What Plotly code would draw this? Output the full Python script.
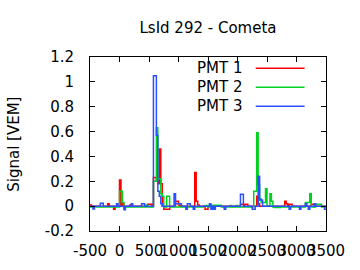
import numpy as np
import plotly.graph_objects as go

# ---- data -------------------------------------------------------------
title_text = "LsId 292 - Cometa"
series_names = ["PMT 1", "PMT 2", "PMT 3"]
t_first = -500          # ns, left edge of first bin
bin_width = 25          # ns

# 160 bins, 20 per row (each row = 500 ns)
pmt1 = [
    0.01, 0, 0, 0, 0, 0, 0, 0, 0, 0, 0, 0, 0.02, 0, 0, 0, -0.025, 0, 0, 0,
    0.21, 0, 0.02, 0, 0, 0, 0, 0.01, 0, 0, 0, 0, 0, 0, 0, 0, 0, 0, 0, 0.015,
    0.015, 0.015, 0, 0.23, 0.23, 0.2, 0.18, 0.46, 0.18, 0, -0.025, -0.025, -0.025, -0.025, 0, 0, 0, 0, 0.04, 0.04,
    0.01, 0, 0, 0, 0, 0, 0, 0, 0, 0, 0, 0.27, 0.04, 0.01, 0, 0, 0, 0, -0.025, -0.025,
    0, 0, 0, 0, 0, 0, 0, 0, 0, 0, 0, 0, 0, 0, 0, 0, 0, 0, 0, 0,
    0, 0, 0.015, 0.015, 0, 0.015, 0.015, 0, 0, 0, 0, 0, 0, 0.08, 0.02, 0, 0, 0, 0, 0,
    0, 0, 0, 0, 0, 0, 0, 0, 0, 0, 0, 0, 0.04, 0.02, 0, 0.015, 0.015, 0, 0, 0,
    0, 0, 0, 0, 0, 0, 0, 0, 0, 0, 0.015, 0.015, 0, 0, 0, 0, 0, 0, 0, 0,
]
pmt2 = [
    -0.006, -0.006, -0.006, -0.006, -0.006, -0.006, -0.006, -0.006, -0.006, -0.006, -0.006, -0.006, -0.006, -0.006, -0.006, -0.006, -0.006, -0.006, -0.006, -0.006,
    0.12, 0.12, 0.03, -0.006, -0.006, -0.006, -0.006, -0.006, -0.006, -0.006, -0.006, -0.006, -0.006, -0.006, -0.006, -0.006, -0.006, -0.006, 0.01, -0.006,
    -0.006, -0.006, -0.006, 0.2, 0.2, 0.63, 0.22, 0.22, 0.1, 0.08, -0.006, -0.006, 0.08, 0.08, -0.006, -0.006, -0.006, -0.006, -0.006, -0.006,
    -0.006, -0.006, 0.0, -0.006, -0.006, -0.006, -0.006, -0.006, -0.006, -0.006, -0.006, -0.006, -0.006, -0.006, -0.006, -0.006, -0.006, 0.0, 0.005, 0.005,
    -0.006, 0.008, 0.008, 0.008, 0.008, 0.008, 0.008, 0.008, 0.008, -0.006, -0.006, -0.006, -0.006, -0.006, -0.006, 0.005, -0.006, -0.006, -0.006, 0.005,
    -0.006, -0.006, -0.006, -0.006, -0.006, -0.006, -0.006, -0.006, -0.006, -0.006, -0.006, 0.12, 0.12, 0.59, 0.17, 0.06, 0.03, 0.03, 0.03, 0.14,
    0.0, 0.0, 0.1, 0.04, -0.006, -0.01, -0.01, -0.01, -0.01, -0.006, -0.006, -0.006, -0.006, -0.006, -0.006, -0.006, -0.006, -0.006, -0.006, -0.006,
    -0.006, -0.006, -0.006, -0.006, -0.006, -0.006, 0.03, 0.03, 0.03, 0.1, -0.006, -0.006, -0.006, 0.015, 0.015, 0.015, 0.015, -0.006, -0.006, -0.006,
]
pmt3 = [
    0, 0, -0.023, 0, 0, 0, 0, 0.023, 0.023, 0, 0, 0, 0, 0, 0, 0, 0, 0, 0.02, 0,
    0, 0, 0, -0.03, 0, 0, 0, 0, 0.02, 0, 0, 0, 0, 0, 0, 0.02, 0.02, 0, 0, 0,
    0, 0, 0, 1.05, 1.05, 0.57, 0.12, 0.08, 0.02, 0, 0, 0, 0, 0, 0, 0, 0, 0.1, 0.02, 0.02,
    0.02, 0.02, 0, 0, 0, -0.025, 0.02, 0.02, 0, 0, -0.025, 0, 0, 0, 0, 0, 0, 0, 0, 0,
    0, 0.02, -0.025, 0, -0.025, 0, 0, 0, 0, 0, 0, -0.025, 0, 0, 0, 0, 0, 0, 0, 0,
    0, 0, 0.095, 0.095, 0, 0, 0, 0, 0, 0, -0.025, -0.025, 0, 0, 0.24, 0.05, 0.05, 0, 0, 0,
    0, 0, 0, 0, 0, 0, 0, 0, 0, 0, 0, 0, 0, 0, 0, -0.025, 0, 0, 0, 0,
    0, 0, -0.025, 0, 0, 0, 0.02, 0, -0.025, 0, 0, 0, 0.02, 0, 0, 0, 0, 0, 0, -0.025,
]
x_tick_vals = [-500, 0, 500, 1000, 1500, 2000, 2500, 3000, 3500]
x_tick_text = ["-500", "0", "500", "1000", "1500", "2000", "2500", "3000", "3500"]
y_tick_vals = [-0.2, 0, 0.2, 0.4, 0.6, 0.8, 1.0, 1.2]
y_tick_text = ["-0.2", "0", "0.2", "0.4", "0.6", "0.8", "1", "1.2"]

# ---- styling ------------------------------------------------------------
colors = ["#ff0000", "#00d020", "#2850ff"]
FONT = "DejaVu Sans"
FS = 15

fig = go.Figure()
for name, vals, col in zip(series_names, [pmt1, pmt2, pmt3], colors):
    n = len(vals)
    edges = t_first + bin_width * np.arange(n + 1)
    yv = np.append(np.array(vals, dtype=float), vals[-1])
    fig.add_trace(go.Scatter(x=edges, y=yv, mode="lines", name=name,
                             line=dict(color=col, width=1.5, shape="hv"),
                             showlegend=False))

axis_common = dict(showline=True, linecolor="black", linewidth=1, mirror="ticks",
                   ticks="inside", ticklen=5, tickcolor="black", tickwidth=1,
                   showgrid=False, zeroline=False, automargin=False, tickangle=0,
                   tickfont=dict(family=FONT, size=FS, color="black"))
fig.update_xaxes(range=[-500, 3500], tickvals=x_tick_vals, ticktext=x_tick_text,
                 ticklabelstandoff=6, **axis_common)
fig.update_yaxes(range=[-0.2, 1.2], tickvals=y_tick_vals, ticktext=y_tick_text,
                 ticklabelstandoff=12, **axis_common)

annotations = [
    dict(text="Signal [VEM]", xref="paper", yref="paper", x=-0.323, y=0.5,
         xanchor="center", yanchor="middle", textangle=-90, showarrow=False,
         font=dict(family=FONT, size=FS, color="black")),
]
shapes = []
legend_y = [0.935, 0.826, 0.717]
for name, col, ly in zip(series_names, colors, legend_y):
    annotations.append(dict(text=name, xref="paper", yref="paper", x=0.6525, y=ly,
                            xanchor="right", yanchor="middle", showarrow=False,
                            font=dict(family=FONT, size=FS, color="black")))
    shapes.append(dict(type="line", xref="paper", yref="paper", x0=0.7022, x1=0.9093,
                       y0=ly, y1=ly, line=dict(color=col, width=1.5)))

fig.update_layout(width=360, height=270, margin=dict(l=90, r=34, t=57, b=39),
                  paper_bgcolor="white", plot_bgcolor="white",
                  title=dict(text=title_text, x=0.5, xref="paper", xanchor="center",
                             y=1 - 28 / 270, yref="container", yanchor="middle",
                             font=dict(family=FONT, size=FS, color="black")),
                  annotations=annotations, shapes=shapes,
                  font=dict(family=FONT, size=FS, color="black"))

fig.write_html("out.html")
